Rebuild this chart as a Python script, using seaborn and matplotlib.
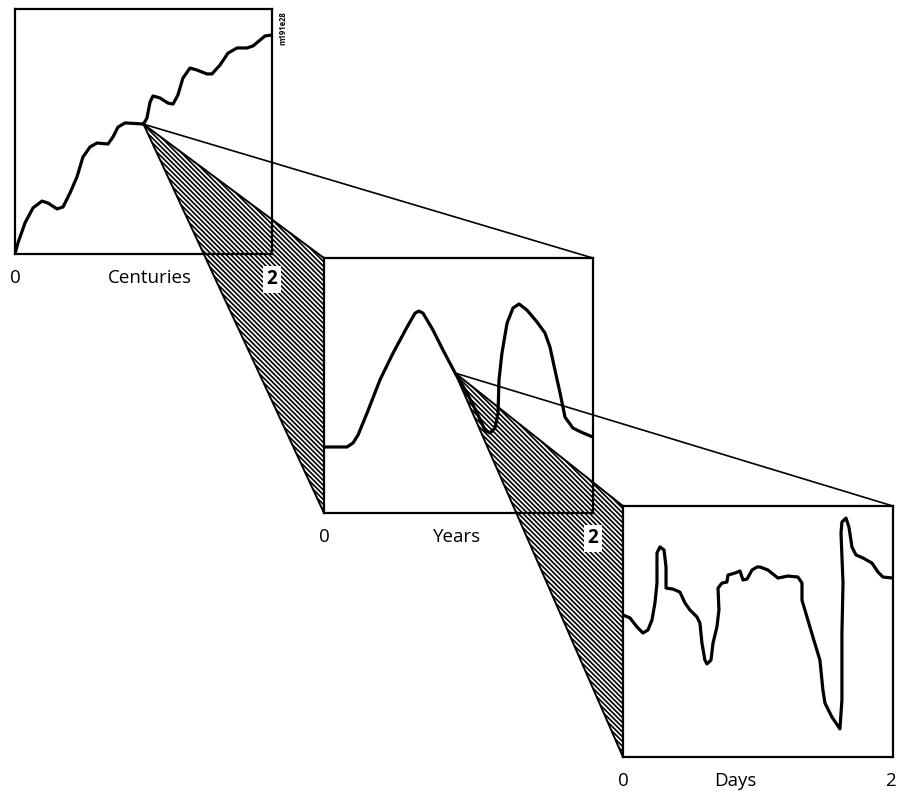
import matplotlib
matplotlib.use('Agg')
import matplotlib.pyplot as plt
import seaborn as sns
from matplotlib.patches import ConnectionPatch, Polygon

# Curve: centuries panel
cent_x = [0.0, 0.023, 0.078, 0.140, 0.210, 0.257, 0.327, 0.374, 0.428, 0.482, 0.529, 0.584,
          0.638, 0.724, 0.763, 0.802, 0.856, 0.988, 1.0, 1.027, 1.051, 1.074, 1.128, 1.191,
          1.230, 1.268, 1.307, 1.362, 1.416, 1.494, 1.533, 1.595, 1.658, 1.728, 1.805, 1.852,
          1.907, 1.946, 2.0]
cent_y = [0.0, 0.045, 0.127, 0.188, 0.216, 0.208, 0.184, 0.192, 0.249, 0.314, 0.396, 0.437,
          0.453, 0.449, 0.478, 0.518, 0.535, 0.531, 0.530, 0.555, 0.620, 0.645, 0.637, 0.616,
          0.612, 0.649, 0.718, 0.759, 0.751, 0.735, 0.735, 0.771, 0.820, 0.841, 0.841, 0.849,
          0.873, 0.890, 0.894]

# years panel
year_x = [0.0, 0.171, 0.216, 0.253, 0.320, 0.416, 0.513, 0.617, 0.677, 0.706, 0.736, 0.810,
          0.885, 0.975, 1.063, 1.138, 1.197, 1.234, 1.271, 1.294, 1.301, 1.323, 1.361, 1.405,
          1.450, 1.509, 1.584, 1.643, 1.680, 1.717, 1.755, 1.792, 1.851, 1.926, 2.0]
year_y = [0.259, 0.259, 0.275, 0.306, 0.392, 0.522, 0.627, 0.729, 0.784, 0.792, 0.784, 0.718,
          0.639, 0.549, 0.471, 0.392, 0.325, 0.314, 0.333, 0.392, 0.522, 0.627, 0.745, 0.804,
          0.820, 0.796, 0.749, 0.706, 0.651, 0.561, 0.471, 0.376, 0.333, 0.314, 0.298]

# days panel
day_x = [0.0, 0.052, 0.104, 0.148, 0.185, 0.215, 0.237, 0.252, 0.252, 0.274, 0.304, 0.319,
         0.319, 0.370, 0.422, 0.459, 0.496, 0.548, 0.570, 0.585, 0.607, 0.622, 0.652, 0.667,
         0.696, 0.711, 0.704, 0.733, 0.770, 0.778, 0.830, 0.867, 0.889, 0.919, 0.956, 0.993,
         1.015, 1.074, 1.148, 1.222, 1.296, 1.326, 1.326, 1.363, 1.407, 1.459, 1.481, 1.496,
         1.548, 1.607, 1.622, 1.622, 1.630, 1.615, 1.622, 1.652, 1.674, 1.696, 1.726, 1.778,
         1.844, 1.889, 1.926, 2.0]
day_y = [0.566, 0.554, 0.518, 0.494, 0.506, 0.546, 0.614, 0.693, 0.813, 0.837, 0.825, 0.757,
         0.673, 0.669, 0.657, 0.614, 0.586, 0.558, 0.534, 0.454, 0.386, 0.371, 0.386, 0.454,
         0.518, 0.586, 0.673, 0.693, 0.697, 0.725, 0.733, 0.741, 0.705, 0.709, 0.745, 0.757,
         0.757, 0.745, 0.713, 0.721, 0.717, 0.693, 0.625, 0.558, 0.478, 0.386, 0.267, 0.215,
         0.159, 0.112, 0.227, 0.494, 0.693, 0.892, 0.936, 0.952, 0.916, 0.837, 0.805, 0.793,
         0.773, 0.737, 0.717, 0.713]

panel_names = ['Centuries', 'Years', 'Days']
name_pos = [1.05, 0.99, 0.83]
end_pos = [2, 2, 1.98]
# where each panel is zoomed into the next one
zoom_x = [1.0, 0.975]

sns.set_style('white')
plt.rcParams['font.family'] = ['Open Sans', 'DejaVu Sans']
plt.rcParams['hatch.linewidth'] = 1.2
plt.rcParams['text.color'] = 'black'
plt.rcParams['xtick.color'] = 'black'

fig = plt.figure(figsize=(8.97, 7.97), dpi=100)
boxes = [[0.0167, 0.6813, 0.2865, 0.3074],
         [0.3612, 0.3563, 0.2999, 0.3199],
         [0.6945, 0.0502, 0.3010, 0.3149]]
curves = [(cent_x, cent_y), (year_x, year_y), (day_x, day_y)]

axes = []
for i, (box, (xs, ys), name, npos) in enumerate(zip(boxes, curves, panel_names, name_pos)):
    ax = fig.add_axes(box)
    ax.set_facecolor('none')
    sns.lineplot(x=xs, y=ys, ax=ax, sort=False, estimator=None, color='black',
                 linewidth=2.3, solid_joinstyle='round', solid_capstyle='round')
    ax.set_xlim(0, 2)
    ax.set_ylim(0, 1)
    ax.set_yticks([])
    ax.set_xticks([0, npos, end_pos[i]])
    ax.set_xticklabels(['0', name, '2'], fontsize=13.5, color='black')
    ax.tick_params(axis='x', length=0, pad=11)
    if i < 2:
        lab = ax.get_xticklabels()[2]
        lab.set_bbox(dict(facecolor='white', edgecolor='none', pad=2.5))
        lab.set_fontweight('bold')
    for s in ax.spines.values():
        s.set_visible(True)
        s.set_color('black')
        s.set_linewidth(1.6)
    axes.append(ax)

fig.canvas.draw()
to_fig = fig.transFigure.inverted()

for i, zx in enumerate(zoom_x):
    src, dst = axes[i], axes[i + 1]
    xs, ys = curves[i]
    zy = ys[xs.index(zx)]
    p0 = to_fig.transform(src.transData.transform((zx, zy)))
    tl = to_fig.transform(dst.transAxes.transform((0, 1)))
    bl = to_fig.transform(dst.transAxes.transform((0, 0)))
    tri = Polygon([p0, tl, bl], closed=True, transform=fig.transFigure,
                  facecolor='white', edgecolor='black', hatch='\\' * 7,
                  linewidth=1.4, zorder=-2)
    fig.add_artist(tri)
    con = ConnectionPatch(xyA=(zx, zy), coordsA=src.transData,
                          xyB=(1, 1), coordsB=dst.transAxes,
                          color='black', linewidth=1.2, zorder=-1)
    fig.add_artist(con)

fig.text(0.3155, 0.965, 'm191e28', rotation=90, fontsize=5.5, fontweight='bold',
         ha='center', va='center')

fig.savefig('out.png', dpi=100)
